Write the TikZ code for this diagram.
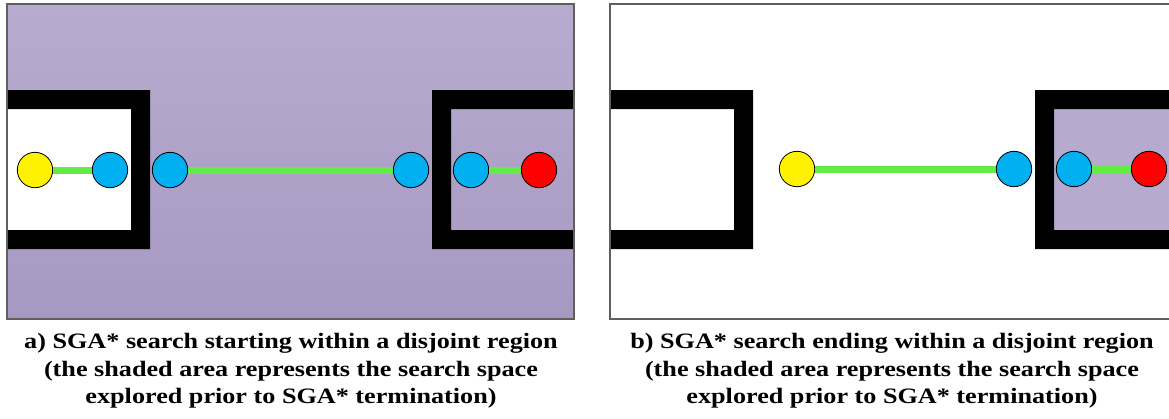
\documentclass[tikz,border=0pt]{standalone}
\usepackage{fontspec}
\setmainfont{Liberation Serif}
\begin{document}
\begin{tikzpicture}[x=1pt,y=-1pt,
  circ/.style={circle,draw=black,line width=0.8pt,minimum size=35.4pt,inner sep=0pt},
  link/.style={draw=linkgreen,line width=7pt},
  wall/.style={fill=black,even odd rule},
  frame/.style={draw=framegray,line width=1.2pt},
  caption/.style={align=center,font=\bfseries\fontsize{22}{27.5}\selectfont,inner sep=0pt,xscale=1.19,transform shape}
]
\definecolor{linkgreen}{RGB}{100,236,70}
\definecolor{shtop}{RGB}{183,172,207}
\definecolor{shbot}{RGB}{167,152,194}
\definecolor{shflat}{RGB}{182,170,206}
\definecolor{framegray}{RGB}{95,95,95}
\definecolor{nodeblue}{RGB}{0,176,240}
\path[use as bounding box] (0,0) rectangle (1169,418);
\clip (0,0) rectangle (1169,418);
\fill[white] (0,0) rectangle (1169,418);

% ---------- panel a ----------
\shade[top color=shtop,bottom color=shbot] (7,4) rectangle (574,319);
\fill[white] (7,109) rectangle (131,230);
\fill[wall] (7,90) rectangle (150,249) (7,109) rectangle (131,230);
\fill[wall] (432,90) rectangle (574,249) (451,109) rectangle (574,230);
\draw[frame] (7,4) rectangle (574,319);

\node[circ,fill=yellow] (ay) at (35,170) {};
\node[circ,fill=nodeblue] (ab1) at (110,170) {};
\node[circ,fill=nodeblue] (ab2) at (170,170) {};
\node[circ,fill=nodeblue] (ab3) at (411,170) {};
\node[circ,fill=nodeblue] (ab4) at (471,170) {};
\node[circ,fill=red] (ar) at (539,170) {};
\draw[link] (ay) -- (ab1);
\draw[link] (ab2) -- (ab3);
\draw[link] (ab4) -- (ar);

% ---------- panel b ----------
\fill[shflat] (1054,109) rectangle (1190,230);
\fill[wall] (610,90) rectangle (753,249) (610,109) rectangle (734,230);
\fill[wall] (1035,90) rectangle (1190,249) (1054,109) rectangle (1190,230);
\draw[frame] (610,4) rectangle (1190,319);

\node[circ,fill=yellow] (by) at (797,169) {};
\node[circ,fill=nodeblue] (bb1) at (1014,169) {};
\node[circ,fill=nodeblue] (bb2) at (1074,169) {};
\node[circ,fill=red] (br) at (1149,169) {};
\draw[link] (by) -- (bb1);
\draw[link] (bb2) -- (br);

% ---------- captions ----------
\node[caption] (capa) at (291,371) {a) SGA* search starting within a disjoint region\\(the shaded area represents the search space\\explored prior to SGA* termination)};
\node[caption] (capb) at (892,371) {b) SGA* search ending within a disjoint region\\(the shaded area represents the search space\\explored prior to SGA* termination)};
\end{tikzpicture}
\end{document}
